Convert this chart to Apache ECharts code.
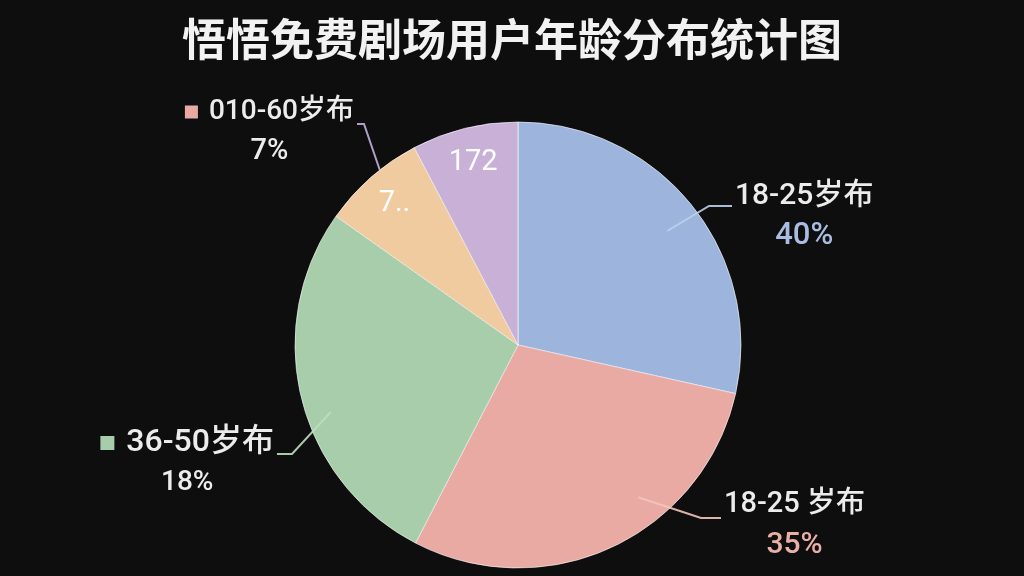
<!DOCTYPE html>
<html>
<head>
<meta charset="utf-8">
<script src="https://cdn.jsdelivr.net/npm/echarts@6/dist/echarts.min.js"></script>
<style>
html,body{margin:0;padding:0;background:#0f0e0e;}
#chart{width:1024px;height:576px;}
</style>
</head>
<body>
<div id="chart"></div>
<script>
// ---- data ----
const titleText = '悟悟免费剧场用户年龄分布统计图';
const sliceNames = ['18-25岁布', '18-25 岁布', '36-50岁布', '010-60岁布', '172'];
const sliceValues = [28.5, 29.1, 27.2, 7.5, 7.7];
const percentLabels = ['40%', '35%', '18%', '7%', ''];
const innerLabels = ['', '', '', '7..', '172'];
const outerLabelShown = [true, true, true, true, false];
const markerShown = [false, false, true, true, false];

// ---- styles / layout (not data) ----
const sliceColors = ['#9db4dc', '#e8aaa2', '#a8cdaa', '#f1cba0', '#c9b0d6'];
const percentColors = ['#a9bde3', '#e9b0a8', '#ececec', '#ececec', '#ececec'];
const markerColors = ['', '', '#a8cdaa', '#e8aaa3', ''];
const lineColors = ['rgba(190,206,236,0.9)', 'rgba(244,196,190,0.9)', 'rgba(190,222,192,0.9)', 'rgba(184,168,212,0.95)', ''];
const nameSizes = [30, 29, 32, 28, 28];
const percentSizes = [31, 30, 28, 29, 28];
const markerSizes = [0, 0, 14, 13, 0];
const markerGaps = [0, 0, 12, 11, 0];
const CX = 518, CY = 345, R = 223;
// label anchor (text block) and guide line shape
const guides = [
  { x: 735, y: 176, align: 'left', ang: 52.6, rad: 188, len2: 23, lineDy: 30 },
  { x: 724, y: 485, align: 'left', ang: 141.7, rad: 194, len2: 20, lineDy: 33 },
  { x: 274, y: 423, align: 'right', ang: 250.3, rad: 199, len2: 15, lineDy: 31 },
  { x: 354, y: 92, align: 'right', ang: 321.7, rad: 223, len2: 7, lineDy: 32 },
  null
];

const FONT = "Roboto, 'Noto Sans CJK SC', sans-serif";

const baseData = sliceNames.map((n, i) => ({
  name: n,
  value: sliceValues[i],
  itemStyle: { color: sliceColors[i] }
}));

const outerData = sliceNames.map((n, i) => ({
  name: n,
  value: sliceValues[i],
  label: { show: outerLabelShown[i] },
  labelLine: { show: outerLabelShown[i], lineStyle: { color: lineColors[i] || '#fff', width: 2 } }
}));

const innerData = sliceNames.map((n, i) => ({
  name: n,
  value: sliceValues[i],
  label: { show: innerLabels[i] !== '' }
}));

const outerRich = {};
for (let i = 0; i < sliceNames.length; i++) {
  outerRich['n' + i] = { fontSize: nameSizes[i], color: '#ececec', lineHeight: 40, fontFamily: FONT, fontWeight: 500 };
  outerRich['p' + i] = { fontSize: percentSizes[i], color: percentColors[i], lineHeight: 40, align: 'center', fontFamily: FONT, fontWeight: 500 };
  if (markerShown[i]) {
    outerRich['m' + i] = { width: markerSizes[i], height: markerSizes[i], backgroundColor: markerColors[i] };
    outerRich['g' + i] = { width: markerGaps[i], height: 4 };
  }
}

const chart = echarts.init(document.getElementById('chart'));
chart.setOption({
  backgroundColor: '#0f0e0e',
  animation: false,
  title: {
    text: titleText,
    left: 'center',
    top: 12,
    textStyle: { color: '#f2f2f2', fontSize: 44, fontWeight: 'bold', fontFamily: "'Noto Sans CJK SC', sans-serif" }
  },
  series: [
    {
      type: 'pie',
      center: [CX, CY],
      radius: R,
      startAngle: 90,
      clockwise: true,
      silent: true,
      label: { show: false },
      labelLine: { show: false },
      itemStyle: { borderColor: 'rgba(255,255,255,0.6)', borderWidth: 1 },
      data: baseData
    },
    {
      type: 'pie',
      center: [CX, CY],
      radius: R,
      startAngle: 90,
      clockwise: true,
      silent: true,
      z: 5,
      avoidLabelOverlap: false,
      itemStyle: { color: 'rgba(0,0,0,0)', borderWidth: 0 },
      emphasis: { disabled: true },
      label: {
        position: 'outside',
        overflow: 'none',
        fontFamily: FONT,
        formatter: function (p) {
          const i = p.dataIndex;
          const mk = markerShown[i] ? '{m' + i + '|}{g' + i + '|}' : '';
          return mk + '{n' + i + '|' + sliceNames[i] + '}\n{p' + i + '|' + percentLabels[i] + '}';
        },
        rich: outerRich
      },
      labelLine: { length: 20, length2: 20, smooth: false },
      labelLayout: function (params) {
        const g = guides[params.dataIndex];
        if (!g) return {};
        const a = g.ang * Math.PI / 180;
        const sx = CX + g.rad * Math.sin(a);
        const sy = CY - g.rad * Math.cos(a);
        const ly = g.y + g.lineDy;
        const isRight = g.align === 'left';
        const ex = isRight ? g.x - 3 : g.x + 3;
        const bx = isRight ? ex - g.len2 : ex + g.len2;
        return {
          x: g.x, y: g.y, align: g.align, verticalAlign: 'top',
          labelLinePoints: [[sx, sy], [bx, ly], [ex, ly]]
        };
      },
      data: outerData
    },
    {
      type: 'pie',
      center: [CX, CY],
      radius: [146, R],
      startAngle: 90,
      clockwise: true,
      silent: true,
      z: 6,
      itemStyle: { color: 'rgba(0,0,0,0)', borderWidth: 0 },
      label: {
        position: 'inside',
        overflow: 'none',
        color: '#ffffff',
        fontSize: 29,
        fontFamily: FONT,
        formatter: function (p) { return innerLabels[p.dataIndex]; }
      },
      labelLine: { show: false },
      emphasis: { disabled: true },
      data: innerData
    }
  ]
});
</script>
</body>
</html>
